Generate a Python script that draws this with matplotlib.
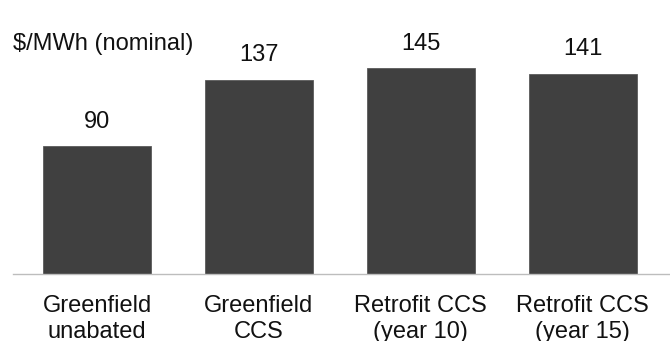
import matplotlib
matplotlib.use('Agg')
import matplotlib.pyplot as plt

plt.rcParams['font.family'] = ['Liberation Sans', 'DejaVu Sans']

# levelised cost by option
categories = ['Greenfield\nunabated', 'Greenfield\nCCS',
              'Retrofit CCS\n(year 10)', 'Retrofit CCS\n(year 15)']
costs = [90, 137, 145, 141]

BAR_COLOR = '#404040'
TEXT_COLOR = '#111111'
FS = 17
PX = 72 / 100  # points per pixel at dpi 100

fig = plt.figure(figsize=(6.7, 3.41), dpi=100)
ax = fig.add_axes([0.0194, 0.1965, 0.9806, 0.8035])

x = list(range(len(categories)))
bars = ax.bar(x, costs, width=0.667, color=BAR_COLOR, edgecolor='#5a5a5a', linewidth=0.6)

# value labels above bars
for b, v in zip(bars, costs):
    ax.annotate(f'{v}', (b.get_x() + b.get_width() / 2, v),
                xytext=(0, 18.5 * PX), textcoords='offset points',
                ha='center', va='baseline', fontsize=FS, color=TEXT_COLOR)

# category names under the axis, one line at a time
for xi, name in zip(x, categories):
    for i, line in enumerate(name.split('\n')):
        ax.annotate(line, (xi, 0), xytext=(0, -(38 + 26 * i) * PX),
                    textcoords='offset points', ha='center', va='baseline',
                    fontsize=FS, color=TEXT_COLOR, annotation_clip=False)

ax.set_xlim(-0.52, 3.54)
ax.set_ylim(0, 193)
ax.set_xticks([])
ax.set_yticks([])

for s in ['top', 'right', 'left']:
    ax.spines[s].set_visible(False)
ax.spines['bottom'].set_color('#bdbdbd')
ax.spines['bottom'].set_linewidth(1.0)

fig.text(13 / 670, 1 - 50 / 341, '$/MWh (nominal)', ha='left', va='baseline',
         fontsize=FS, color=TEXT_COLOR)

fig.savefig('out.png', dpi=100)
